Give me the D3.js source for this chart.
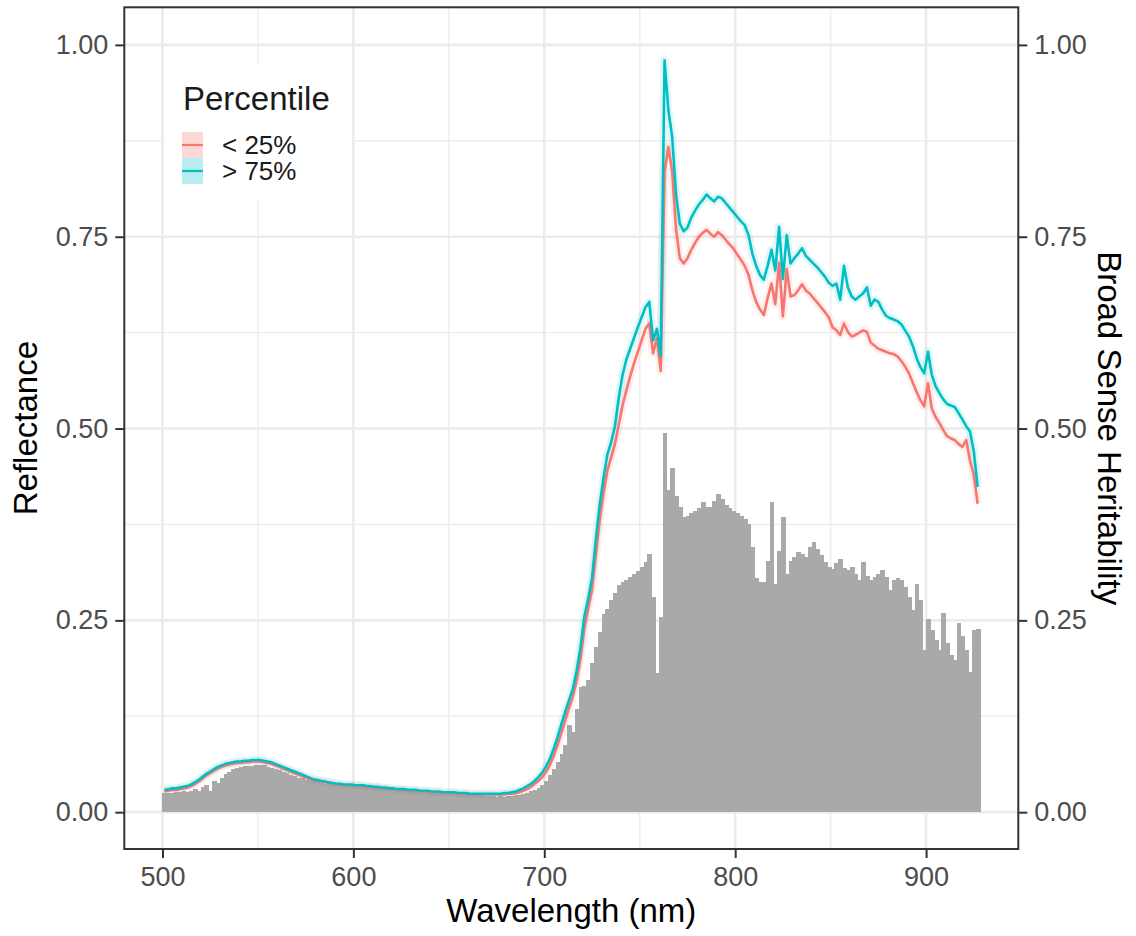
<!DOCTYPE html>
<html><head><meta charset="utf-8">
<script src="https://cdn.jsdelivr.net/npm/d3@7"></script>
<style>
body{margin:0;background:#fff}
svg{display:block}
text{font-family:"Liberation Sans", Arial, Helvetica, sans-serif}
</style>
</head><body>
<svg id="chart" width="1136" height="936"></svg>
<script>
// ---------------- data ----------------
const wavelength = [
501,503,505,507,509,511,513,515,517,519,
521,523,525,527,529,531,533,535,537,539,
541,543,545,547,549,551,553,555,557,559,
561,563,565,567,569,571,573,575,577,579,
581,583,585,587,589,591,593,595,597,599,
601,603,605,607,609,611,613,615,617,619,
621,623,625,627,629,631,633,635,637,639,
641,643,645,647,649,651,653,655,657,659,
661,663,665,667,669,671,673,675,677,679,
681,683,685,687,689,691,693,695,697,699,
701,703,705,707,709,711,713,715,717,719,
721,723,725,727,729,731,733,735,737,739,
741,743,745,747,749,751,753,755,757,759,
761,763,765,767,769,771,773,775,777,779,
781,783,785,787,789,791,793,795,797,799,
801,803,805,807,809,811,813,815,817,819,
821,823,825,827,829,831,833,835,837,839,
841,843,845,847,849,851,853,855,857,859,
861,863,865,867,869,871,873,875,877,879,
881,883,885,887,889,891,893,895,897,899,
901,903,905,907,909,911,913,915,917,919,
921,923,925,927];

// reflectance, upper percentile group (> 75%)
const reflHigh = [
0.029,0.030,0.031,0.031,0.032,0.033,0.034,0.036,0.039,0.042,
0.046,0.050,0.053,0.056,0.059,0.061,0.063,0.064,0.065,0.066,
0.066,0.067,0.067,0.068,0.068,0.068,0.067,0.066,0.065,0.063,
0.061,0.059,0.057,0.055,0.053,0.051,0.049,0.047,0.045,0.043,
0.042,0.041,0.040,0.039,0.038,0.037,0.037,0.036,0.036,0.036,
0.035,0.035,0.035,0.034,0.034,0.033,0.033,0.032,0.032,0.031,
0.031,0.030,0.030,0.030,0.029,0.029,0.029,0.028,0.028,0.028,
0.027,0.027,0.027,0.026,0.026,0.026,0.026,0.025,0.025,0.025,
0.024,0.024,0.024,0.024,0.024,0.024,0.024,0.024,0.024,0.025,
0.025,0.026,0.027,0.029,0.031,0.034,0.037,0.041,0.046,0.052,
0.060,0.070,0.083,0.098,0.115,0.131,0.146,0.161,0.185,0.215,
0.255,0.278,0.305,0.355,0.400,0.435,0.466,0.482,0.503,0.540,
0.570,0.590,0.604,0.618,0.632,0.645,0.658,0.665,0.615,0.630,
0.595,0.980,0.915,0.880,0.805,0.767,0.757,0.762,0.775,0.784,
0.792,0.798,0.805,0.800,0.796,0.802,0.800,0.794,0.788,0.782,
0.776,0.770,0.765,0.752,0.728,0.712,0.700,0.694,0.712,0.733,
0.706,0.763,0.695,0.752,0.715,0.722,0.728,0.735,0.725,0.720,
0.715,0.710,0.704,0.698,0.690,0.686,0.689,0.668,0.712,0.684,
0.672,0.668,0.672,0.676,0.684,0.660,0.668,0.665,0.655,0.647,
0.644,0.642,0.640,0.636,0.628,0.620,0.608,0.592,0.580,0.572,
0.600,0.570,0.555,0.546,0.538,0.532,0.530,0.528,0.520,0.512,
0.503,0.496,0.470,0.424];

// reflectance, lower percentile group (< 25%)
const reflLow = [
0.027,0.028,0.029,0.029,0.030,0.031,0.032,0.034,0.037,0.040,
0.044,0.048,0.051,0.054,0.057,0.059,0.061,0.062,0.063,0.064,
0.064,0.065,0.065,0.066,0.066,0.066,0.065,0.064,0.063,0.061,
0.059,0.057,0.055,0.053,0.051,0.049,0.047,0.045,0.043,0.042,
0.041,0.040,0.039,0.038,0.037,0.036,0.036,0.035,0.035,0.035,
0.034,0.034,0.034,0.033,0.033,0.032,0.032,0.031,0.031,0.030,
0.030,0.029,0.029,0.029,0.028,0.028,0.028,0.027,0.027,0.027,
0.026,0.026,0.026,0.025,0.025,0.025,0.025,0.024,0.024,0.024,
0.023,0.023,0.023,0.023,0.023,0.023,0.023,0.023,0.023,0.023,
0.024,0.024,0.025,0.026,0.028,0.030,0.033,0.037,0.041,0.046,
0.053,0.062,0.074,0.088,0.104,0.120,0.136,0.151,0.172,0.200,
0.240,0.265,0.290,0.335,0.380,0.415,0.445,0.462,0.480,0.505,
0.530,0.550,0.568,0.585,0.600,0.615,0.630,0.637,0.598,0.618,
0.575,0.835,0.867,0.835,0.760,0.722,0.715,0.722,0.733,0.742,
0.750,0.755,0.759,0.754,0.750,0.756,0.752,0.746,0.740,0.735,
0.727,0.720,0.712,0.700,0.680,0.665,0.655,0.648,0.670,0.689,
0.662,0.716,0.646,0.708,0.672,0.674,0.680,0.688,0.680,0.676,
0.670,0.664,0.658,0.652,0.645,0.632,0.628,0.622,0.637,0.626,
0.620,0.622,0.625,0.628,0.626,0.612,0.608,0.604,0.602,0.600,
0.598,0.597,0.594,0.588,0.581,0.572,0.560,0.548,0.537,0.529,
0.559,0.526,0.515,0.507,0.498,0.490,0.487,0.485,0.480,0.476,
0.485,0.458,0.440,0.402];

// broad sense heritability (bars)
const heritability = [
0.025,0.025,0.025,0.026,0.026,0.027,0.026,0.028,0.030,0.028,
0.033,0.036,0.027,0.040,0.038,0.045,0.050,0.052,0.056,0.058,
0.059,0.060,0.060,0.060,0.061,0.061,0.061,0.059,0.058,0.056,
0.055,0.053,0.051,0.049,0.047,0.045,0.044,0.042,0.041,0.040,
0.039,0.038,0.037,0.037,0.036,0.036,0.035,0.035,0.035,0.034,
0.034,0.033,0.033,0.033,0.032,0.032,0.031,0.031,0.031,0.030,
0.030,0.030,0.029,0.029,0.029,0.028,0.028,0.028,0.027,0.027,
0.027,0.026,0.026,0.025,0.025,0.024,0.024,0.024,0.023,0.023,
0.023,0.022,0.022,0.022,0.021,0.021,0.021,0.020,0.021,0.020,
0.021,0.021,0.022,0.022,0.024,0.025,0.027,0.029,0.032,0.036,
0.041,0.048,0.056,0.066,0.076,0.088,0.113,0.104,0.135,0.163,
0.165,0.172,0.195,0.215,0.235,0.258,0.265,0.276,0.285,0.296,
0.300,0.303,0.306,0.310,0.314,0.320,0.326,0.336,0.280,0.181,
0.255,0.494,0.420,0.448,0.412,0.398,0.385,0.386,0.390,0.392,
0.396,0.404,0.398,0.398,0.405,0.415,0.408,0.400,0.396,0.392,
0.390,0.386,0.382,0.376,0.346,0.305,0.300,0.300,0.328,0.404,
0.298,0.341,0.385,0.311,0.328,0.333,0.339,0.336,0.333,0.345,
0.352,0.343,0.335,0.326,0.320,0.317,0.325,0.330,0.318,0.315,
0.319,0.310,0.302,0.326,0.308,0.302,0.306,0.310,0.315,0.306,
0.289,0.302,0.305,0.302,0.293,0.280,0.263,0.298,0.276,0.211,
0.252,0.237,0.225,0.211,0.259,0.220,0.205,0.198,0.246,0.230,
0.211,0.183,0.237,0.239];

const xTicks = [500, 600, 700, 800, 900];
const xMinorTicks = [550, 650, 750, 850];
const yTicks = [0, 0.25, 0.5, 0.75, 1.0];
const yMinorTicks = [0.125, 0.375, 0.625, 0.875];
const groups = ["< 25%", "> 75%"];
const groupColors = ["#F8766D", "#00BFC4"];
const legendTitle = "Percentile";
const xTitle = "Wavelength (nm)";
const yTitle = "Reflectance";
const y2Title = "Broad Sense Heritability";
const sampleStep = 2; // nm between samples (bar width)

// ---------------- layout ----------------
const svg = d3.select("#chart");
const P = {left: 124.3, right: 1018.3, top: 7.3, bottom: 849};

const x = d3.scaleLinear().domain([480, 948.3]).range([P.left, P.right]);
const y = d3.scaleLinear().domain([-0.048, 1.049]).range([P.bottom, P.top]);

const panel = svg.append("g");
panel.append("rect").attr("x", P.left).attr("y", P.top)
  .attr("width", P.right - P.left).attr("height", P.bottom - P.top).attr("fill", "#fff");

// grid
const grid = panel.append("g");
grid.selectAll(".vmin").data(xMinorTicks).join("line")
  .attr("x1", d => x(d)).attr("x2", d => x(d)).attr("y1", P.top).attr("y2", P.bottom)
  .attr("stroke", "#EDEDED").attr("stroke-width", 1.4);
grid.selectAll(".hmin").data(yMinorTicks).join("line")
  .attr("y1", d => y(d)).attr("y2", d => y(d)).attr("x1", P.left).attr("x2", P.right)
  .attr("stroke", "#EDEDED").attr("stroke-width", 1.4);
grid.selectAll(".vmaj").data(xTicks).join("line")
  .attr("x1", d => x(d)).attr("x2", d => x(d)).attr("y1", P.top).attr("y2", P.bottom)
  .attr("stroke", "#EBEBEB").attr("stroke-width", 2.6);
grid.selectAll(".hmaj").data(yTicks).join("line")
  .attr("y1", d => y(d)).attr("y2", d => y(d)).attr("x1", P.left).attr("x2", P.right)
  .attr("stroke", "#EBEBEB").attr("stroke-width", 2.6);

// bars
const barData = wavelength.map((w, i) => ({w, h: heritability[i]}));
panel.append("g").attr("shape-rendering", "crispEdges")
  .selectAll("rect").data(barData).join("rect")
  .attr("x", d => x(d.w - sampleStep / 2))
  .attr("width", d => x(d.w + sampleStep / 2) - x(d.w - sampleStep / 2) + 1)
  .attr("y", d => y(d.h))
  .attr("height", d => y(0) - y(d.h))
  .attr("fill", "#A9A9A9");

// lines (with a faint confidence glow)
const series = [reflLow, reflHigh];
const line = d3.line().x((d, i) => x(wavelength[i])).y(d => y(d));
series.forEach((s, k) => {
  panel.append("path").datum(s).attr("d", line)
    .attr("fill", "none").attr("stroke", groupColors[k]).attr("stroke-opacity", 0.12)
    .attr("stroke-width", 8).attr("stroke-linejoin", "round");
});
series.forEach((s, k) => {
  panel.append("path").datum(s).attr("d", line)
    .attr("fill", "none").attr("stroke", groupColors[k])
    .attr("stroke-width", 2.6).attr("stroke-linejoin", "round");
});

// legend
const lg = svg.append("g");
lg.append("rect").attr("x", 164).attr("y", 63).attr("width", 187).attr("height", 137).attr("fill", "#fff");
lg.append("text").attr("x", 183).attr("y", 110).attr("font-size", 33).attr("fill", "#1a1a1a").text(legendTitle);
groups.forEach((g, k) => {
  const ky = 132 + k * 26;
  lg.append("rect").attr("x", 182).attr("y", ky).attr("width", 21).attr("height", 26)
    .attr("fill", groupColors[k]).attr("fill-opacity", 0.28);
  lg.append("line").attr("x1", 182).attr("x2", 203).attr("y1", ky + 13).attr("y2", ky + 13)
    .attr("stroke", groupColors[k]).attr("stroke-width", 2.2);
  lg.append("text").attr("x", 222).attr("y", ky + 13).attr("dy", "0.36em")
    .attr("font-size", 26).attr("fill", "#1a1a1a").text(g);
});

// border
svg.append("rect").attr("x", P.left).attr("y", P.top)
  .attr("width", P.right - P.left).attr("height", P.bottom - P.top)
  .attr("fill", "none").attr("stroke", "#333333").attr("stroke-width", 2);

// axes
function styleAxis(g) {
  g.select(".domain").remove();
  g.selectAll(".tick line").attr("stroke", "#333333").attr("stroke-width", 2);
  g.selectAll(".tick text").attr("fill", "#4D4D4D").attr("font-size", 27)
    .attr("font-family", '"Liberation Sans", Arial, sans-serif');
}
svg.append("g").attr("transform", `translate(${P.left},0)`)
  .call(d3.axisLeft(y).tickValues(yTicks).tickFormat(d3.format(".2f")).tickSize(9).tickPadding(7))
  .call(styleAxis);
svg.append("g").attr("transform", `translate(${P.right},0)`)
  .call(d3.axisRight(y).tickValues(yTicks).tickFormat(d3.format(".2f")).tickSize(9).tickPadding(7))
  .call(styleAxis);
svg.append("g").attr("transform", `translate(0,${P.bottom})`)
  .call(d3.axisBottom(x).tickValues(xTicks).tickFormat(d3.format("d")).tickSize(9).tickPadding(9))
  .call(styleAxis);

// titles
const cx = (P.left + P.right) / 2, cy = (P.top + P.bottom) / 2;
svg.append("text").attr("x", cx).attr("y", 922).attr("text-anchor", "middle")
  .attr("font-size", 33).attr("fill", "#000").text(xTitle);
svg.append("text").attr("transform", `translate(37,${cy}) rotate(-90)`).attr("text-anchor", "middle")
  .attr("font-size", 33).attr("fill", "#000").text(yTitle);
svg.append("text").attr("transform", `translate(1098,${cy}) rotate(90)`).attr("text-anchor", "middle")
  .attr("font-size", 33).attr("fill", "#000").text(y2Title);
</script>
</body></html>
